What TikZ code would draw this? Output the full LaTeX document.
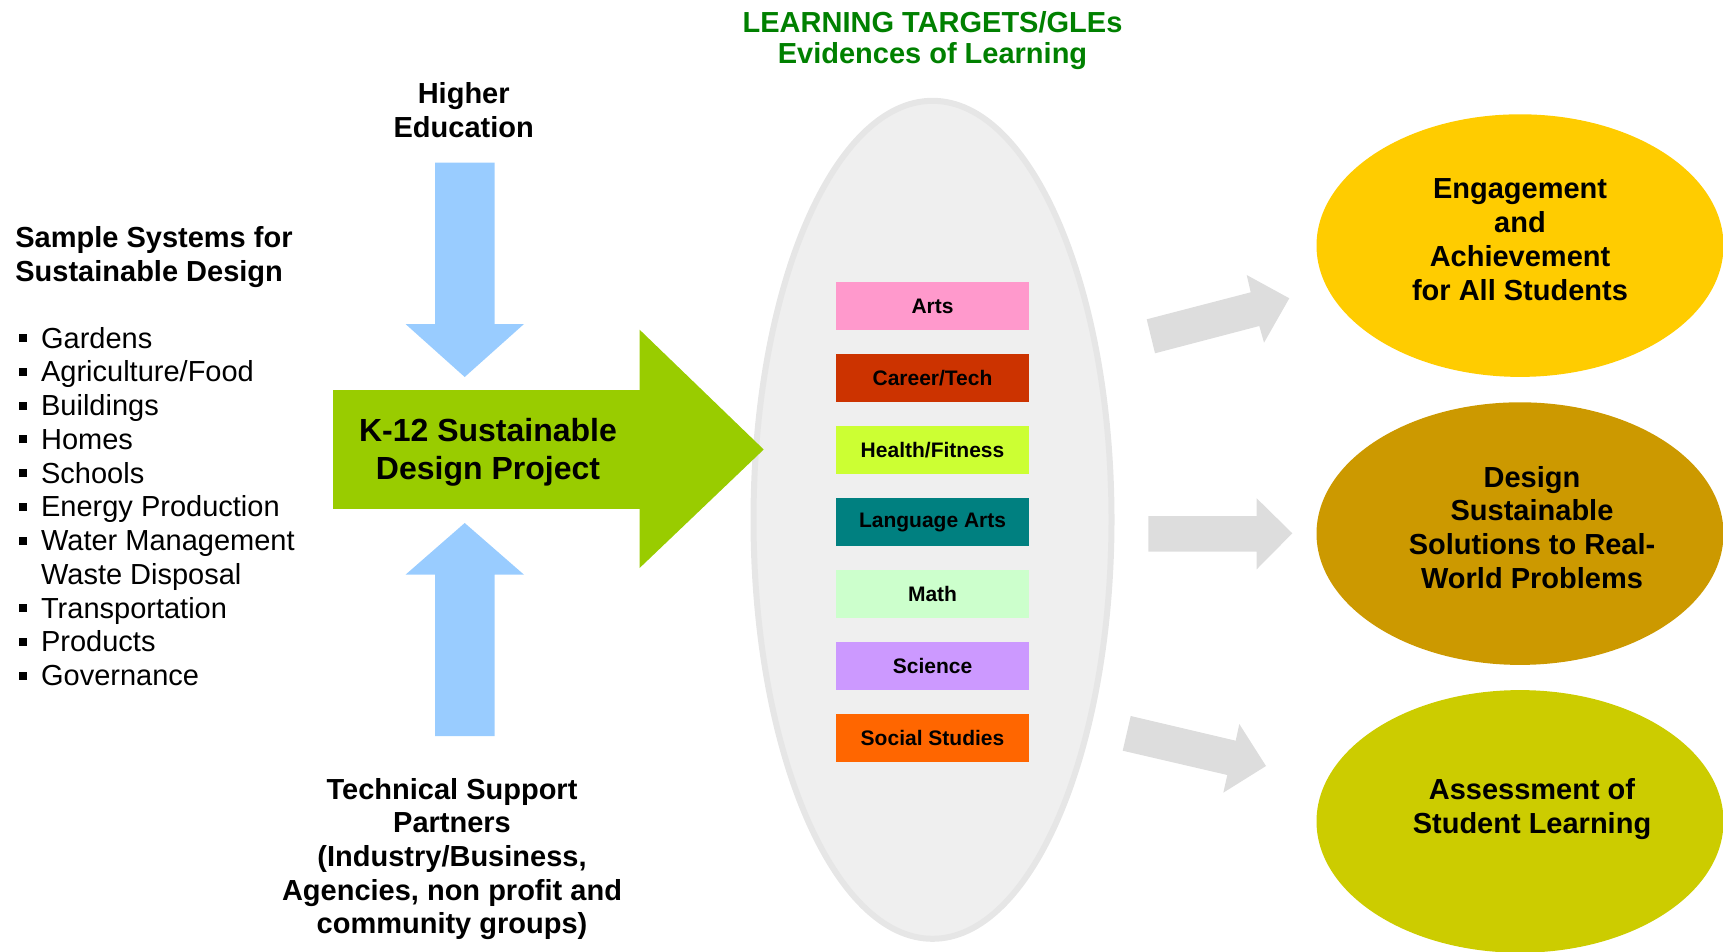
\documentclass[tikz,border=0pt]{standalone}
\usepackage{fontspec}
\setmainfont{Liberation Sans}
\usetikzlibrary{shapes.geometric, positioning}

\definecolor{arrowBlue}{HTML}{99CCFF}
\definecolor{arrowGreen}{HTML}{99CC00}
\definecolor{arrowGray}{HTML}{DDDDDD}
\definecolor{titleGreen}{HTML}{008000}
\definecolor{ovalFill}{HTML}{EFEFEF}
\definecolor{ovalRim}{HTML}{E6E6E6}
\definecolor{goalYellow}{HTML}{FFCC00}
\definecolor{goalGold}{HTML}{CC9900}
\definecolor{goalOlive}{HTML}{CCCC00}
\definecolor{subjArts}{HTML}{FF99CC}
\definecolor{subjCareer}{HTML}{CC3300}
\definecolor{subjHealth}{HTML}{CCFF33}
\definecolor{subjLanguage}{HTML}{008080}
\definecolor{subjMath}{HTML}{CCFFCC}
\definecolor{subjScience}{HTML}{CC99FF}
\definecolor{subjSocial}{HTML}{FF6600}

\newcommand{\lblfont}{\fontsize{14.5}{16.9}\selectfont\bfseries}
\newcommand{\listfont}{\fontsize{14.5}{16.87}\selectfont}
\newcommand{\bigfont}{\fontsize{16}{19.2}\selectfont\bfseries}
\newcommand{\boxfont}{\fontsize{10.5}{12}\selectfont\bfseries}
\newcommand{\blt}{\makebox[10.85pt][l]{\raisebox{3pt}{\rule{4pt}{4pt}}}}
\newcommand{\nblt}{\makebox[10.85pt][l]{}}

\tikzstyle{fLabel} = [inner sep=0pt, align=center, font=\lblfont]
\tikzstyle{fList} = [inner sep=0pt, align=left, font=\listfont]
\tikzstyle{fSubject} = [rectangle, minimum width=96.2pt, minimum height=24pt, inner sep=0pt, text centered, font=\boxfont]
\tikzstyle{fOval} = [ellipse, minimum width=179pt, minimum height=419pt, inner sep=0pt, fill=ovalFill, draw=ovalRim, line width=3pt]
\tikzstyle{fGoal} = [ellipse, minimum width=203.5pt, minimum height=131.3pt, inner sep=0pt]
\tikzstyle{fBlue} = [fill=arrowBlue]
\tikzstyle{fGreen} = [fill=arrowGreen]
\tikzstyle{fGray} = [fill=arrowGray]

\begin{document}
\begin{tikzpicture}[x=0.5pt, y=-0.5pt, node distance=36pt]
    \clip (0,0) rectangle (1723,952);
    \node (evidence) [fOval] at (932.5,519.8) {};
    \node (learnTitle) [fLabel, text=titleGreen, font=\fontsize{14.5}{15.4}\selectfont\bfseries] at (932.5,40.5) {LEARNING TARGETS/GLEs\\Evidences of Learning};
    \node (arts) [fSubject, fill=subjArts] at (932.5,306) {Arts};
    \node (career) [fSubject, fill=subjCareer, below of=arts] {Career/Tech};
    \node (health) [fSubject, fill=subjHealth, below of=career] {Health/Fitness};
    \node (language) [fSubject, fill=subjLanguage, below of=health] {Language Arts};
    \node (math) [fSubject, fill=subjMath, below of=language] {Math};
    \node (science) [fSubject, fill=subjScience, below of=math] {Science};
    \node (social) [fSubject, fill=subjSocial, below of=science] {Social Studies};

    \node (sysTitle) [fLabel, align=left, anchor=west] at (15,257) {Sample Systems for\\Sustainable Design};
    \node (sysList) [fList, anchor=west] at (19,506.5) {\blt Gardens\\\blt Agriculture/Food\\\blt Buildings\\\blt Homes\\\blt Schools\\\blt Energy Production\\\blt Water Management\\\nblt Waste Disposal\\\blt Transportation\\\blt Products\\\blt Governance};

    \node (higher) [fLabel] at (463.7,110) {Higher\\Education};
    \node (partners) [fLabel, font=\fontsize{14.5}{16.8}\selectfont\bfseries] at (452,859) {Technical Support\\Partners\\(Industry/Business,\\Agencies, non profit and\\community groups)};

    \fill [fBlue] (435,162.6) -- (494.5,162.6) -- (494.5,324) -- (524,324) -- (464.7,377) -- (405.5,324) -- (435,324) -- cycle;
    \fill [fBlue] (435,736) -- (494.5,736) -- (494.5,574.7) -- (524,574.7) -- (464.7,523) -- (405.5,574.7) -- (435,574.7) -- cycle;
    \fill [fGreen] (333,390) -- (639.6,390) -- (639.6,329.7) -- (763.7,449.5) -- (639.6,568) -- (639.6,508.8) -- (333,508.8) -- cycle;
    \node (project) [fLabel, font=\bigfont] at (488,452) {K-12 Sustainable\\Design Project};

    \fill [fGray] (1155,353.3) -- (1146.7,319.3) -- (1250.7,292.3) -- (1246.7,275) -- (1289.3,298.3) -- (1264,342.7) -- (1259.3,326) -- cycle;
    \fill [fGray] (1148.3,516) -- (1256.7,516) -- (1256.7,498.3) -- (1292.3,533.3) -- (1256.7,569.3) -- (1256.7,551.7) -- (1148.3,551.7) -- cycle;
    \fill [fGray] (1130.7,716) -- (1235.7,740.7) -- (1239.3,724) -- (1266,766) -- (1223.3,792.7) -- (1227.3,775) -- (1122.7,750.7) -- cycle;

    \node (engage) [fGoal, fill=goalYellow] at (1520,245.6) {};
    \node (solve) [fGoal, fill=goalGold] at (1520,533.6) {};
    \node (assess) [fGoal, fill=goalOlive] at (1520,821.4) {};
    \node (engageText) [fLabel] at (1520,239.5) {Engagement\\and\\Achievement\\for All Students};
    \node (solveText) [fLabel] at (1532,527.5) {Design\\Sustainable\\Solutions to Real-\\World Problems};
    \node (assessText) [fLabel] at (1532,809) {Assessment of\\Student Learning};
\end{tikzpicture}
\end{document}
